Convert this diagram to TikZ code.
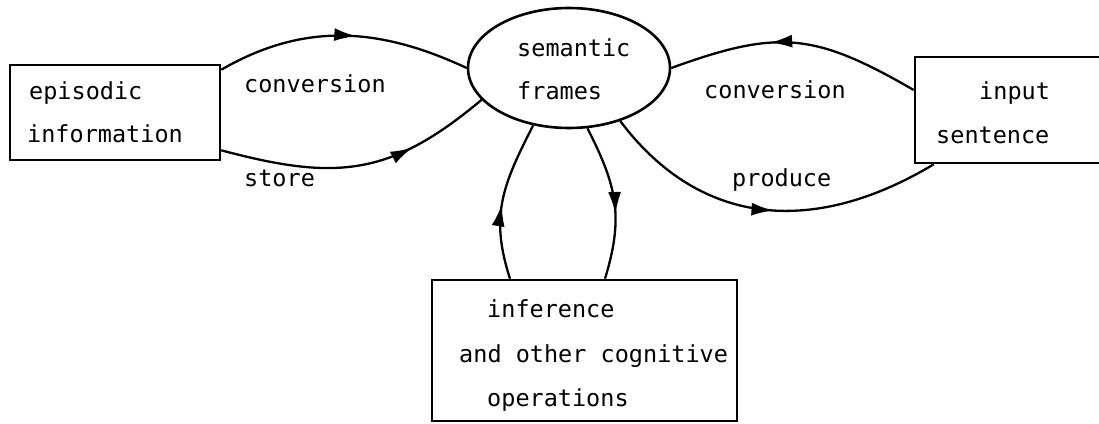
\documentclass[tikz,border=0pt]{standalone}
\usepackage{fontspec}
\setmonofont{DejaVu Sans Mono}
\usetikzlibrary{arrows.meta,decorations.markings,calc,shapes.geometric}
\tikzset{
  lbl/.style={font=\ttfamily\fontsize{23.5}{30}\selectfont, inner sep=0pt, anchor=base west},
  boxnode/.style={draw, line width=2.6pt, inner sep=0pt},
  conn/.style={line width=2.3pt},
  midarrow/.style={postaction={decorate},
    decoration={markings, mark=at position #1 with {\arrow{Latex[length=22pt,width=13pt]}}}},
}
\begin{document}
\begin{tikzpicture}[x=1pt,y=1pt]
\useasboundingbox (0,0) rectangle (1099,423);
% boxes (coordinates: x px, y = 423 - px)
\node[boxnode, minimum width=210pt, minimum height=95pt] (ep) at (115,310.5) {};
\node[boxnode, minimum width=190pt, minimum height=106pt] (is) at (1010,313) {};
\node[boxnode, minimum width=305pt, minimum height=141pt] (inf) at (584.5,72.5) {};
\node[draw, ellipse, line width=2.6pt, minimum width=202pt, minimum height=120pt, inner sep=0pt] (sf) at (569,355) {};
% texts
\node[lbl] (t1) at (29,323) {episodic};
\node[lbl] (t2) at (27,280) {information};
\node[lbl] (t3) at (517,366) {semantic};
\node[lbl] (t4) at (517,323) {frames};
\node[lbl] (t5) at (979,323) {input};
\node[lbl] (t6) at (936,279) {sentence};
\node[lbl] (t7) at (487,106) {inference};
\node[lbl] (t8) at (459,61) {and other cognitive};
\node[lbl] (t9) at (487,17) {operations};
\node[lbl] (l1) at (244,330) {conversion};
\node[lbl] (l2) at (244,236) {store};
\node[lbl] (l3) at (704,324) {conversion};
\node[lbl] (l4) at (732,236) {produce};
% connectors
\draw[conn, midarrow=0.55] ($(ep.north east)+(0,-6)$) to[out=30,in=155] (sf.west);
\draw[conn, midarrow=0.7] ($(ep.south east)+(0,11)$) to[out=-15,in=220,looseness=1.15] (sf.200);
\draw[conn, midarrow=0.6] ($(is.west)+(0,20)$) to[out=150,in=20,looseness=1.2] (sf.east);
\draw[conn, midarrow=0.52] (sf.-46) to[out=-53,in=211,looseness=1.1] ($(is.south west)+(20,0)$);
\draw[conn, midarrow=0.47] ($(inf.north)+(-74.5,0)$) to[out=108,in=243,looseness=1.1] (sf.238);
\draw[conn, midarrow=0.58] (sf.287) to[out=-63,in=73,looseness=1.1] ($(inf.north)+(20.5,0)$);
\end{tikzpicture}
\end{document}
